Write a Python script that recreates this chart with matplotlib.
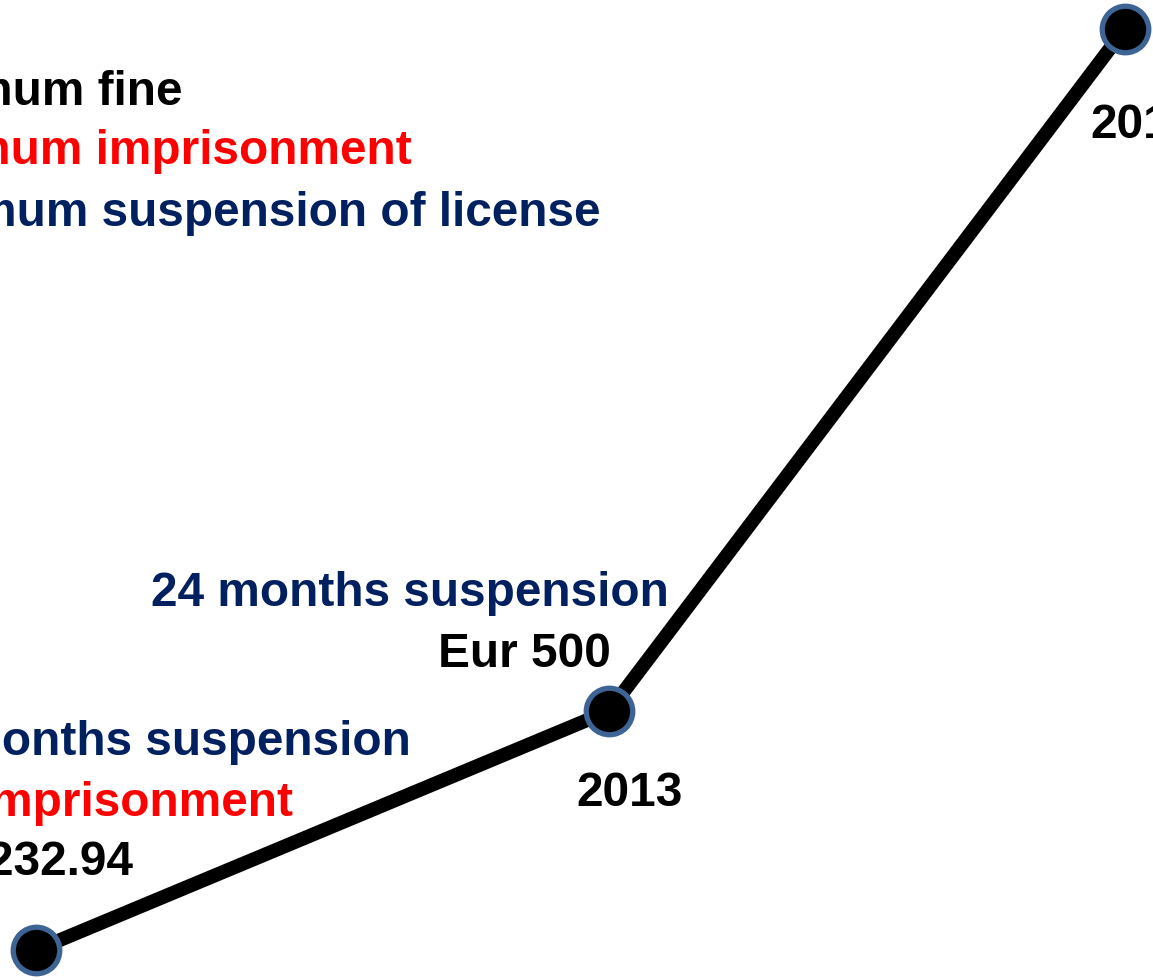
import matplotlib
matplotlib.use("Agg")
import matplotlib.pyplot as plt
from matplotlib.transforms import Affine2D

W, H = 1153, 980
DPI = 100

# ---- data ----
years = ["2011", "2013", "2016"]
year_pos = [2011.0, 2013.0, 2014.8]
fines = [232.94, 500.0, 1262.0]

legend_labels = ["Maximum fine", "Maximum imprisonment", "Maximum suspension of license"]
legend_colors = ["#000000", "#FF0000", "#002060"]

point_labels_1 = ["12 months suspension", "3 months imprisonment", "Eur 232.94"]
point_labels_2 = ["24 months suspension", "Eur 500"]
label_colors_1 = ["#002060", "#FF0000", "#000000"]
label_colors_2 = ["#002060", "#000000"]

plt.rcParams["font.family"] = ["Liberation Sans", "DejaVu Sans"]
FS = 34.4

fig = plt.figure(figsize=(W / DPI, H / DPI), dpi=DPI)
ax = fig.add_axes([0, 0, 1, 1])
ax.set_xlim(2010.874, 2014.899)
ax.set_ylim(199.42, 1294.5)
ax.axis("off")

ax.plot(year_pos, fines, color="black", lw=10, solid_capstyle="butt", zorder=2)
ax.plot(year_pos, fines, ls="none", marker="o", ms=33.5, mfc="black",
        mec="#3D6494", mew=3.8, zorder=3)

# pixel transform (origin top-left)
px = Affine2D().scale(1, -1).translate(0, H)

def t(x, y, s, color, ha="right"):
    fig.text(x, y, s, transform=px, fontsize=FS, fontweight="bold",
             color=color, ha=ha, va="baseline")

# legend block (cropped at left)
for s, c, (xr, yb) in zip(legend_labels, legend_colors, [(183, 105), (412, 164), (600, 226)]):
    t(xr, yb, s, c)

# first point labels
for s, c, (xr, yb) in zip(point_labels_1, label_colors_1, [(411, 755), (293, 816), (133, 875)]):
    t(xr, yb, s, c)

# second point labels
for s, c, (xr, yb) in zip(point_labels_2, label_colors_2, [(669, 606), (611, 667)]):
    t(xr, yb, s, c)

# year labels
t(630, 806, years[1], "#000000", ha="center")
t(1090, 138, years[2], "#000000", ha="left")
t(57, 1045, years[0], "#000000", ha="center")

fig.savefig("out.png", dpi=DPI)
